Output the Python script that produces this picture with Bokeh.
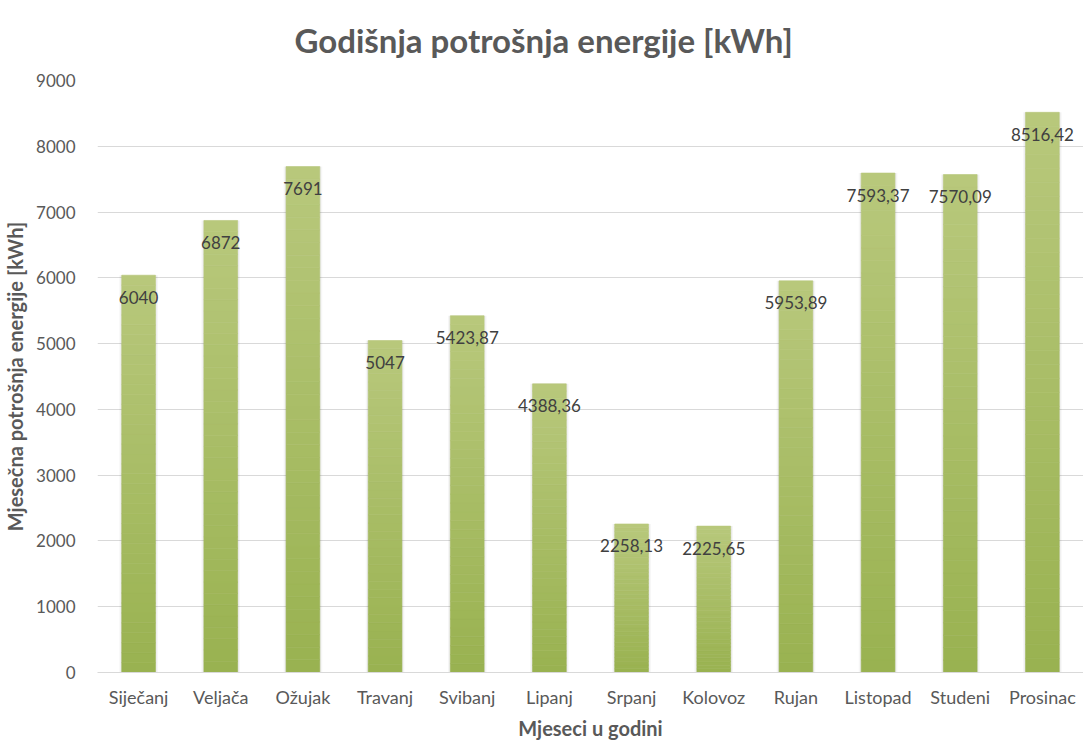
from bokeh.plotting import figure
from bokeh.models import ColumnDataSource, LabelSet, FixedTicker, Range1d, Title
from bokeh.core.properties import value
from bokeh.embed import file_html
from bokeh.resources import INLINE

months = ["Siječanj", "Veljača", "Ožujak", "Travanj", "Svibanj", "Lipanj",
          "Srpanj", "Kolovoz", "Rujan", "Listopad", "Studeni", "Prosinac"]
values = [6040, 6872, 7691, 5047, 5423.87, 4388.36, 2258.13, 2225.65,
          5953.89, 7593.37, 7570.09, 8516.42]
value_labels = ["6040", "6872", "7691", "5047", "5423,87", "4388,36", "2258,13",
                "2225,65", "5953,89", "7593,37", "7570,09", "8516,42"]
y_ticks = [0, 1000, 2000, 3000, 4000, 5000, 6000, 7000, 8000, 9000]

FONT = "Lato"
N = 40
top_rgb = (184, 200, 124)
bot_rgb = (153, 178, 80)

seg_x, seg_bottom, seg_top, seg_color = [], [], [], []
for m, v in zip(months, values):
    for i in range(N):
        seg_x.append(m)
        seg_bottom.append(v * i / N)
        seg_top.append(v * (i + 1) / N)
        t = (i + 0.5) / N
        c = tuple(round(b + (tp - b) * t) for b, tp in zip(bot_rgb, top_rgb))
        seg_color.append("#%02x%02x%02x" % c)

seg_src = ColumnDataSource(dict(x=seg_x, bottom=seg_bottom, top=seg_top, color=seg_color))
bar_src = ColumnDataSource(dict(x=months, top=values))
lab_src = ColumnDataSource(dict(x=months, y=values, text=value_labels))

p = figure(x_range=months, y_range=Range1d(0, 9000), width=1083, height=742,
           output_backend="svg", toolbar_location=None,
           min_border_left=97, min_border_right=0, min_border_top=80, min_border_bottom=69)

p.title = Title(text="Godišnja potrošnja energije [kWh]", align="left", offset=197,
                vertical_align="top", standoff=38, text_font=FONT,
                text_font_size="33px", text_font_style="bold", text_color="#595959")

# soft shadow behind bars
p.vbar(x="x", top="top", bottom=0, width=0.47, source=bar_src,
       fill_color="#000000", fill_alpha=0.035, line_color=None)
p.vbar(x="x", top="top", bottom=0, width=0.44, source=bar_src,
       fill_color="#000000", fill_alpha=0.05, line_color=None)

p.vbar(x="x", bottom="bottom", top="top", width=0.41, source=seg_src,
       fill_color="color", line_color="color", line_width=0.6)

labels = LabelSet(x="x", y="y", text="text", source=lab_src, y_offset=-22,
                  text_align="center", text_baseline="middle",
                  text_font=value(FONT), text_font_size="17px", text_color="#404040")
p.add_layout(labels)

p.outline_line_color = None
p.xgrid.grid_line_color = None
p.ygrid.grid_line_color = "#d9d9d9"
p.ygrid.grid_line_width = 1

p.yaxis.ticker = FixedTicker(ticks=y_ticks)
p.yaxis.axis_line_color = None
p.yaxis.major_tick_line_color = None
p.yaxis.minor_tick_line_color = None
p.yaxis.major_label_text_font = FONT
p.yaxis.major_label_text_font_size = "17px"
p.yaxis.major_label_text_color = "#595959"
p.yaxis.major_label_standoff = 16
p.yaxis.axis_label = "Mjesečna potrošnja energije [kWh]"
p.yaxis.axis_label_text_font = FONT
p.yaxis.axis_label_text_font_size = "20px"
p.yaxis.axis_label_text_font_style = "bold"
p.yaxis.axis_label_text_color = "#595959"
p.yaxis.axis_label_standoff = 6

p.xaxis.axis_line_color = "#d9d9d9"
p.xaxis.axis_line_width = 1
p.xaxis.major_tick_line_color = None
p.xaxis.minor_tick_line_color = None
p.xaxis.major_label_text_font = FONT
p.xaxis.major_label_text_font_size = "18px"
p.xaxis.major_label_text_color = "#595959"
p.xaxis.major_label_standoff = 7
p.xaxis.axis_label = "Mjeseci u godini"
p.xaxis.axis_label_text_font = FONT
p.xaxis.axis_label_text_font_size = "20px"
p.xaxis.axis_label_text_font_style = "bold"
p.xaxis.axis_label_text_color = "#595959"
p.xaxis.axis_label_standoff = 5

p.x_range.range_padding = 0

open("out.html", "w").write(file_html(p, INLINE))
